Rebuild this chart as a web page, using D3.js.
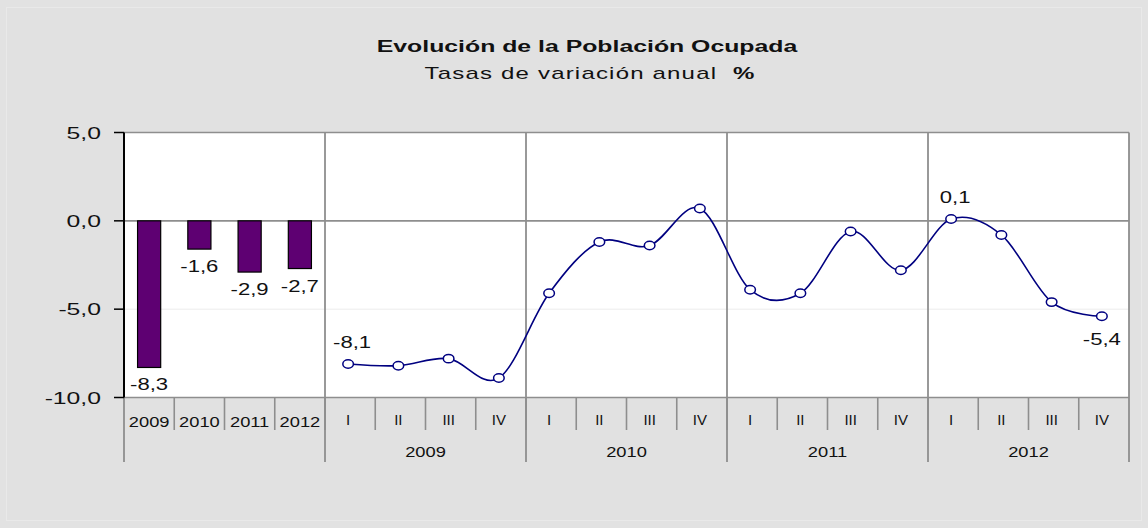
<!DOCTYPE html>
<html lang="es">
<head>
    <meta charset="UTF-8">
    <title>Evolución de la Población Ocupada</title>
    <script src="https://d3js.org/d3.v7.min.js"></script>
    <style>
        * { margin: 0; padding: 0; box-sizing: border-box; }
        body { background-color: #e2e2e2; font-family: Arial, "Liberation Sans", sans-serif; }
        svg text { fill: #111; font-family: Arial, "Liberation Sans", sans-serif; }
    </style>
</head>
<body>
<div id="chart"></div>
<script>
    // Annual averages (bars)
    const annualYears = ["2009", "2010", "2011", "2012"];
    const annualValues = [-8.3, -1.6, -2.9, -2.7];

    // Quarterly rates (line)
    const quarters = ["I", "II", "III", "IV"];
    const quarterYears = ["2009", "2010", "2011", "2012"];
    const quarterlyValues = [
        -8.1, -8.2, -7.8, -8.9,
        -4.1, -1.2, -1.4, 0.7,
        -3.9, -4.1, -0.6, -2.8,
        0.1, -0.8, -4.6, -5.4
    ];
    // which quarterly points carry a value label
    const labelsAbove = [0, 12];
    const labelsBelow = [15];

    const yTicks = [5, 0, -5, -10];

    const width = 1148, height = 528;
    const plot = { left: 124, right: 1129, top: 132.5, bottom: 397.5 };
    const row1 = 430, row2 = 462;

    const locale = d3.formatLocale({ decimal: ",", thousands: ".", grouping: [3], currency: ["", " €"], minus: "-" });
    const fmt = locale.format(".1f");

    const svg = d3.select("#chart").append("svg")
        .attr("width", width)
        .attr("height", height);

    svg.append("rect")
        .attr("x", 0).attr("y", 0)
        .attr("width", width).attr("height", height)
        .attr("fill", "#e2e2e2");
    svg.append("rect")
        .attr("x", 6.5).attr("y", 7.5)
        .attr("width", width - 13).attr("height", height - 15)
        .attr("fill", "#e1e1e1")
        .attr("stroke", "#e9e9e9");

    // category keys: 4 annual slots then 16 quarterly slots
    const annualKeys = annualYears.map(y => "A" + y);
    const quarterKeys = [];
    quarterYears.forEach(y => quarters.forEach(q => quarterKeys.push(y + "-" + q)));
    const keys = annualKeys.concat(quarterKeys);

    const x = d3.scaleBand().domain(keys).range([plot.left, plot.right]).padding(0);
    const y = d3.scaleLinear().domain([-10, 5]).range([plot.bottom, plot.top]);
    const bw = x.bandwidth();

    // text helper (the original glyphs are rendered wide, so stretch horizontally)
    function addText(g, px, py, txt, opts) {
        const o = Object.assign({ size: 16, sx: 1.35, anchor: "middle", weight: "normal" }, opts || {});
        return g.append("text")
            .attr("transform", `translate(${px},${py}) scale(${o.sx},1)`)
            .attr("text-anchor", o.anchor)
            .attr("font-size", o.size + "px")
            .attr("font-weight", o.weight)
            .text(txt);
    }

    // plot background
    svg.append("rect")
        .attr("x", plot.left).attr("y", plot.top)
        .attr("width", plot.right - plot.left)
        .attr("height", plot.bottom - plot.top)
        .attr("fill", "#ffffff");

    // horizontal grid lines
    svg.append("g").selectAll("line")
        .data(yTicks)
        .enter().append("line")
        .attr("x1", plot.left).attr("x2", plot.right)
        .attr("y1", d => y(d)).attr("y2", d => y(d))
        .attr("stroke", d => d === -5 ? "#ececec" : "#8e8e8e")
        .attr("stroke-width", d => d === -5 ? 1 : 1.6);

    // x-axis separators, first row
    svg.append("g").selectAll("line")
        .data(keys.slice(1))
        .enter().append("line")
        .attr("x1", d => x(d)).attr("x2", d => x(d))
        .attr("y1", plot.bottom).attr("y2", row1)
        .attr("stroke", "#8e8e8e")
        .attr("stroke-width", 1.6);

    // year dividers (through plot and both label rows)
    const dividers = [annualKeys[0], quarterKeys[0], quarterKeys[4], quarterKeys[8], quarterKeys[12]];
    svg.append("g").selectAll("line")
        .data(dividers)
        .enter().append("line")
        .attr("x1", d => x(d)).attr("x2", d => x(d))
        .attr("y1", d => d === annualKeys[0] ? plot.bottom : plot.top)
        .attr("y2", row2)
        .attr("stroke", "#8e8e8e")
        .attr("stroke-width", 1.8);
    svg.append("line")
        .attr("x1", plot.right).attr("x2", plot.right)
        .attr("y1", plot.top).attr("y2", row2)
        .attr("stroke", "#8e8e8e")
        .attr("stroke-width", 1.8);

    // y axis
    const yAxis = svg.append("g");
    yAxis.append("line")
        .attr("x1", plot.left).attr("x2", plot.left)
        .attr("y1", plot.top).attr("y2", plot.bottom)
        .attr("stroke", "#000").attr("stroke-width", 2);
    yAxis.selectAll(".tick")
        .data(yTicks)
        .enter().append("line")
        .attr("x1", plot.left - 10).attr("x2", plot.left)
        .attr("y1", d => y(d)).attr("y2", d => y(d))
        .attr("stroke", "#000").attr("stroke-width", 1.5);
    yTicks.forEach(t => addText(yAxis, 101, y(t) + 6, fmt(t), { size: 16.5, sx: 1.5, anchor: "end" }));

    // bars
    const barW = bw * 0.46;
    svg.append("g").selectAll("rect")
        .data(annualValues)
        .enter().append("rect")
        .attr("x", (d, i) => x(annualKeys[i]) + (bw - barW) / 2)
        .attr("y", d => y(Math.max(0, d)))
        .attr("width", barW)
        .attr("height", d => Math.abs(y(d) - y(0)))
        .attr("fill", "#5e0072")
        .attr("stroke", "#000")
        .attr("stroke-width", 1.2);

    const barLabels = svg.append("g");
    annualValues.forEach((v, i) => {
        addText(barLabels, x(annualKeys[i]) + bw / 2, y(v) + 23, fmt(v), { size: 16, sx: 1.38 });
    });

    // smoothed quarterly line
    const pts = quarterlyValues.map((v, i) => [x(quarterKeys[i]) + bw / 2 - 2, y(v)]);
    svg.append("path")
        .datum(pts)
        .attr("fill", "none")
        .attr("stroke", "#000080")
        .attr("stroke-width", 1.6)
        .attr("d", d3.line().curve(d3.curveCardinal.tension(0)));

    svg.append("g").selectAll("ellipse")
        .data(pts)
        .enter().append("ellipse")
        .attr("cx", d => d[0]).attr("cy", d => d[1])
        .attr("rx", 5.3).attr("ry", 4.2)
        .attr("fill", "#fff")
        .attr("stroke", "#000080")
        .attr("stroke-width", 1.5);

    const lineLabels = svg.append("g");
    labelsAbove.forEach(i => addText(lineLabels, pts[i][0] + 4, pts[i][1] - 16, fmt(quarterlyValues[i]), { size: 16, sx: 1.38 }));
    labelsBelow.forEach(i => addText(lineLabels, pts[i][0], pts[i][1] + 29, fmt(quarterlyValues[i]), { size: 16, sx: 1.38 }));

    // x labels
    const xl = svg.append("g");
    annualYears.forEach((yr, i) => addText(xl, x(annualKeys[i]) + bw / 2, 427, yr, { size: 15, sx: 1.22 }));
    quarterKeys.forEach((k, i) => addText(xl, x(k) + bw / 2 - 2, 425, quarters[i % 4], { size: 15, sx: 1.0 }));
    quarterYears.forEach((yr, j) => addText(xl, x(quarterKeys[j * 4]) + bw * 2, 457, yr, { size: 15, sx: 1.22 }));

    // titles
    const tg = svg.append("g");
    addText(tg, 587, 52, "Evolución de la Población Ocupada", { size: 17, sx: 1.46, weight: "bold" });
    const sub = addText(tg, 590, 79, "Tasas de variación anual  ", { size: 16, sx: 1.5 })
        .attr("letter-spacing", "0.8px")
        .style("white-space", "pre");
    sub.append("tspan").attr("font-weight", "bold").text("%");
</script>
</body>
</html>
